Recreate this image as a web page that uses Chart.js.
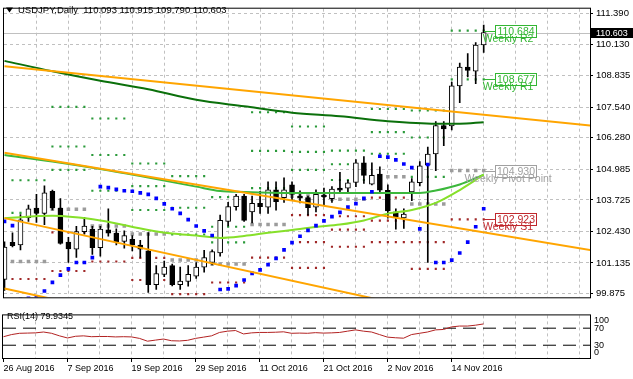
<!DOCTYPE html>
<html>
<head>
<meta charset="utf-8">
<script src="https://cdn.jsdelivr.net/npm/chart.js@4.4.1/dist/chart.umd.min.js"></script>
<style>
html,body{margin:0;padding:0;background:#fff;overflow:hidden;}
#wrap{position:relative;width:633px;height:379px;background:#fff;}
canvas{position:absolute;left:0;}
#main{top:0;}
#rsi{top:306px;}
</style>
</head>
<body>
<div id="wrap">
<canvas id="main" width="633" height="306"></canvas>
<canvas id="rsi" width="633" height="73"></canvas>
</div>
<script>
// ---------------- DATA ----------------
const symbol = 'USDJPY';
const timeframe = 'Daily';
const tickBars = [0, 8, 16, 24, 32, 40, 48, 56];
const tickLabels = ['26 Aug 2016','7 Sep 2016','19 Sep 2016','29 Sep 2016','11 Oct 2016','21 Oct 2016','2 Nov 2016','14 Nov 2016'];
const gridBars = [4,8,12,16,20,24,28,32,36,40,44,48,52,56,60,64,68,72];
const rsiGridBars = [0,4,8,12,16,20,24,28,32,36,40,44,48,52,56,60,64,68,72];
const priceTicks = [99.875, 101.135, 102.430, 103.725, 104.985, 106.280, 107.540, 108.835, 110.130, 111.390];

const opens = [100.45,101.98,101.87,102.99,103.39,103.17,104.08,103.39,101.99,101.70,
  102.42,102.52,101.76,102.49,102.36,102.02,102.10,101.87,101.63,100.24,
  100.66,101.02,100.24,100.37,100.59,100.96,101.15,101.54,102.84,103.45,
  103.88,103.23,103.58,103.43,104.14,103.82,104.34,103.88,103.82,103.43,
  103.92,103.78,104.21,104.21,104.44,105.25,104.37,104.79,104.12,103.23,
  102.98,104.05,104.43,105.15,105.61,106.78,106.77,108.41,109.19,109.02,110.093];
const highs = [102.00,102.37,103.12,103.51,103.95,104.30,104.13,103.78,102.19,102.64,
  103.01,102.64,102.64,103.36,102.53,102.45,102.26,102.06,102.38,101.02,
  101.21,101.09,100.96,101.02,101.15,101.65,101.67,103.10,103.62,103.95,
  103.95,103.88,104.08,104.47,104.47,104.63,104.47,104.10,103.88,104.14,
  104.21,104.27,104.86,104.53,105.38,105.51,105.25,105.08,104.34,103.36,
  103.36,104.60,105.30,105.90,106.94,106.94,108.57,109.35,109.74,110.19,110.915];
const lows = [100.00,101.79,101.67,102.84,102.80,102.71,103.31,101.90,101.15,101.36,
  102.32,101.48,101.41,102.23,101.87,101.74,101.63,101.36,99.92,100.04,
  100.57,100.19,100.04,100.18,100.50,100.75,101.05,101.41,102.65,103.30,
  102.84,102.78,103.17,103.17,103.30,103.62,103.69,103.60,103.10,103.23,
  103.49,103.62,104.01,104.01,104.27,104.40,104.34,104.01,102.97,102.52,
  102.55,103.69,104.30,101.15,104.93,105.95,106.60,107.72,108.78,108.50,109.790];
const closes = [101.78,101.84,102.91,103.36,103.17,104.01,103.39,101.93,101.71,102.42,
  102.65,101.76,102.52,102.36,101.99,102.26,101.87,101.70,100.24,100.70,
  100.96,100.24,100.39,100.66,100.96,101.35,101.60,102.88,103.45,103.88,
  102.88,103.58,103.45,104.14,103.65,104.14,103.95,103.80,103.40,103.95,
  103.86,104.17,104.12,104.43,105.25,104.73,104.73,104.12,103.27,103.04,
  103.14,104.47,105.12,105.61,106.78,106.64,108.41,109.19,109.05,110.09,110.603];

// Parabolic SAR
const sar = [102.84,102.67,99.66,99.68,99.70,99.98,100.33,100.63,100.89,101.15,
  101.15,101.35,104.27,104.23,104.16,104.10,104.08,104.01,103.95,103.79,
  103.56,103.36,103.17,102.91,102.65,102.45,102.26,100.04,100.07,100.20,
  100.43,100.70,100.85,101.06,101.32,101.67,101.97,102.23,102.47,102.67,
  102.86,103.04,103.21,103.43,103.57,103.79,104.06,105.52,105.48,105.37,
  105.20,105.05,102.53,105.18,101.15,101.15,101.25,101.54,101.99,102.62,103.36];

// RSI(14)
const rsi = [50,55,58,58.5,59,61,58,52,47,51,
  52,50,50.5,50.5,49.5,50,49.5,46,39.5,42,
  44.5,40.5,40,41.5,46,49,52,60,63,64.5,
  56.5,59,60,60,60.5,61.5,58,58.5,58,59.5,
  58.5,59,60,63,66,63,61,55,49,47.5,
  46.5,55,58,61,66,67,73,75,75,77,79.9345];
const rsiLevels = [70, 30];
const rsiTickPos = [12.6, 30, 70, 87.4];
const rsiTickText = ['0', '30', '70', '100'];

// Moving averages (sampled readings: bar index / value)
const maSlowBars = [0,6,12,18,24,30,36,42,48,54,57,60];
const maSlowVals = [109.44,109.01,108.62,108.27,107.84,107.57,107.31,107.16,106.96,106.86,106.86,106.92];
const maMidBars = [0,6,12,18,24,27,30,36,42,48,52,54,57,60];
const maMidVals = [105.57,105.30,104.99,104.64,104.27,104.09,104.05,104.01,104.01,104.01,104.01,104.11,104.36,104.76];
const maFastBars = [0,6,12,18,21,24,27,30,33,36,39,42,45,48,51,54,57,60];
const maFastVals = [102.97,103.07,102.88,102.49,102.34,102.26,102.16,102.24,102.37,102.49,102.61,102.71,102.88,103.16,103.31,103.60,104.13,104.76];

// Trend lines: [bar, price] endpoints
const trendA = [[0,109.22],[74,106.76]];
const trendB = [[0,105.66],[74,101.63]];
const trendC = [[0,102.975],[50,99.40]];
const trendD = [[0,100.08],[10,99.365]];

// Weekly pivots (each drawn over 5 bars)
const weekStart = [1,6,11,16,21,26,31,36,41,46,51,56];
const pivP  = [101.19,103.34,102.65,102.32,101.25,101.09,102.71,103.88,103.75,104.68,103.56,104.930];
const pivR1 = [103.19,104.96,104.10,103.31,102.30,101.98,104.21,104.96,104.54,105.62,104.67,108.677];
const pivR2 = [104.53,105.92,105.57,104.29,103.40,102.62,105.74,105.70,105.19,106.51,106.29,110.684];
const pivR3 = [null,107.55,107.07,105.22,104.70,103.84,107.33,106.74,105.75,107.46,107.40,null];
const pivS1 = [100.47,102.39,101.19,101.34,99.85,100.33,101.35,103.10,103.05,103.82,101.99,102.923];
const pivS2 = [null,100.80,null,100.43,null,null,null,101.99,102.50,102.87,100.89,null];
const pivS3 = [null,null,null,null,null,null,null,100.93,101.80,101.99,null,null];

const labelValues = [110.684, 108.677, 104.930, 102.923];
const labelNames = ['Weekly R2', 'Weekly R1', 'Weekly Pivot Point', 'Weekly S1'];

// ---------------- CHART ----------------
const FONT = '"Liberation Sans", Arial, sans-serif';
Chart.defaults.font.family = FONT;
Chart.defaults.font.size = 9;
Chart.defaults.color = '#000';
const N = closes.length;
const X_MIN = -0.0625, X_MAX = 73.31;
const idx = closes.map((_, i) => i);
const labelColors = ['#33b633', '#33b633', '#a0a0a0', '#c0282d'];

function levelPoints(arrs) {
  const pts = [];
  arrs.forEach(arr => arr.forEach((v, w) => {
    if (v == null) return;
    for (let k = 0; k < 5; k++) pts.push({x: weekStart[w] + k, y: v});
  }));
  return pts;
}
const toPts = (bars, vals) => bars.map((b, k) => ({x: b, y: vals[k]}));
const tl = (seg) => seg.map(p => ({x: p[0], y: p[1]}));

function dotSet(data, color, r, order) {
  return {type: 'line', data, showLine: false, pointStyle: 'rect', pointRadius: r,
    pointBackgroundColor: color, pointBorderWidth: 0, order, clip: 0};
}
function lineSet(data, color, w, order, smooth) {
  const o = {type: 'line', data, borderColor: color, borderWidth: w, pointRadius: 0, order, clip: 0, fill: false};
  if (smooth) o.cubicInterpolationMode = 'monotone';
  return o;
}

const mainDecor = {
  id: 'mainDecor',
  beforeDatasetsDraw(chart) {
    const {ctx, chartArea: a, scales: {y}} = chart;
    const yb = Math.round(y.getPixelForValue(closes[N - 1])) + 0.5;
    ctx.save();
    ctx.strokeStyle = '#c0c0c0'; ctx.lineWidth = 1;
    ctx.beginPath(); ctx.moveTo(a.left, yb); ctx.lineTo(a.right, yb); ctx.stroke();
    ctx.restore();
  },
  afterDatasetsDraw(chart) {
    const {ctx, chartArea: a, scales: {x, y}} = chart;
    ctx.save();
    ctx.beginPath(); ctx.rect(a.left, a.top, a.right - a.left, a.bottom - a.top); ctx.clip();
    const xEnd = Math.round(x.getPixelForValue(N - 1));
    const xBox = xEnd + 11;
    const xTxt = x.getPixelForValue(63.05);
    labelValues.forEach((v, k) => {
      const col = labelColors[k];
      const py = Math.round(y.getPixelForValue(v)) + 0.5;
      ctx.strokeStyle = col; ctx.lineWidth = 1;
      ctx.beginPath(); ctx.moveTo(xEnd, py); ctx.lineTo(xBox, py); ctx.stroke();
      ctx.fillStyle = '#fff'; ctx.fillRect(xBox, py - 6, 42, 12);
      ctx.strokeRect(xBox + 0.5, py - 6, 41, 12);
      ctx.font = '10.5px ' + FONT; ctx.fillStyle = col;
      ctx.textAlign = 'center'; ctx.textBaseline = 'middle';
      ctx.fillText(v.toFixed(3), xBox + 21, py + 0.5);
    });
    labelValues.forEach((v, k) => {
      const py = Math.round(y.getPixelForValue(v)) + 0.5;
      ctx.font = '10.5px ' + FONT; ctx.fillStyle = labelColors[k];
      ctx.textAlign = 'center'; ctx.textBaseline = 'middle';
      ctx.fillText(labelNames[k], xTxt, py + 8);
    });
    ctx.restore();

    // frame
    ctx.save();
    ctx.strokeStyle = '#000'; ctx.lineWidth = 1;
    ctx.strokeRect(a.left - 0.5, a.top - 0.5, a.right - a.left + 1, a.bottom - a.top + 1);
    // header
    ctx.fillStyle = '#000';
    ctx.beginPath(); ctx.moveTo(6, 7.5); ctx.lineTo(13, 7.5); ctx.lineTo(9.5, 12.5); ctx.closePath(); ctx.fill();
    ctx.font = '9.5px ' + FONT; ctx.textAlign = 'left'; ctx.textBaseline = 'middle';
    const last = N - 1;
    ctx.fillText(symbol + ',' + timeframe + '  ' + opens[last].toFixed(3) + ' ' + highs[last].toFixed(3) + ' ' +
      lows[last].toFixed(3) + ' ' + closes[last].toFixed(3), 18, 10.5);
    // current price marker
    const yc = Math.round(y.getPixelForValue(closes[last]));
    ctx.fillRect(591, yc - 5, 42, 10);
    ctx.fillStyle = '#fff';
    ctx.font = '9px ' + FONT;
    ctx.fillText(closes[last].toFixed(3), 596, yc + 0.5);
    ctx.restore();
  }
};

new Chart(document.getElementById('main'), {
  type: 'line',
  data: {
    datasets: [
      dotSet(levelPoints([pivR1, pivR2, pivR3]), '#2a9a3a', 1.5, 30),
      dotSet(levelPoints([pivP]), '#9c9c9c', 2.5, 29),
      dotSet(levelPoints([pivS1, pivS2, pivS3]), '#a02828', 1.5, 28),
      {type: 'bar', data: idx.map(i => ({x: i, y: [lows[i], highs[i]]})), backgroundColor: '#000',
        barThickness: 1, grouped: false, order: 20, clip: 0},
      {type: 'bar', data: idx.map(i => ({x: i, y: [opens[i], closes[i]]})),
        backgroundColor: idx.map(i => closes[i] >= opens[i] ? '#fff' : '#000'),
        borderColor: '#000', borderWidth: 1, borderSkipped: false, barThickness: 5, grouped: false, order: 19, clip: 0},
      lineSet(toPts(maSlowBars, maSlowVals), '#0b700b', 2, 12, true),
      lineSet(toPts(maMidBars, maMidVals), '#3cb83c', 2, 11, true),
      lineSet(toPts(maFastBars, maFastVals), '#86e02a', 2, 10, true),
      dotSet(sar.map((v, i) => ({x: i, y: v})), '#0000ff', 2.6, 5),
      lineSet(tl(trendA), '#ffa500', 2, 2),
      lineSet(tl(trendB), '#ffa500', 2, 2),
      lineSet(tl(trendC), '#ffa500', 2, 2),
      lineSet(tl(trendD), '#ffa500', 2, 2)
    ]
  },
  options: {
    responsive: false, animation: false, events: [],
    layout: {padding: {left: 3, right: 0, top: 1, bottom: 1}},
    plugins: {legend: {display: false}, tooltip: {enabled: false}, title: {display: false}},
    scales: {
      x: {type: 'linear', min: X_MIN, max: X_MAX, offset: false,
        afterBuildTicks: s => { s.ticks = gridBars.map(v => ({value: v})); },
        afterFit: s => { s.height = 0; },
        ticks: {display: false},
        grid: {color: '#c0c0c0', drawTicks: false, offset: false},
        border: {display: false, dash: [3, 3]}},
      y: {type: 'linear', position: 'right', min: 99.72, max: 111.585,
        afterBuildTicks: s => { s.ticks = priceTicks.map(v => ({value: v})); },
        afterFit: s => { s.width = 43; },
        ticks: {callback: v => Number(v).toFixed(3), padding: 3, autoSkip: false, color: '#000', font: {size: 9.5}},
        grid: {color: '#c0c0c0', tickColor: '#000', tickLength: 3, drawTicks: true},
        border: {display: false, dash: [3, 3]}}
    }
  },
  plugins: [mainDecor]
});

const rsiDecor = {
  id: 'rsiDecor',
  afterDatasetsDraw(chart) {
    const {ctx, chartArea: a} = chart;
    ctx.save();
    ctx.strokeStyle = '#000'; ctx.lineWidth = 1;
    ctx.strokeRect(a.left - 0.5, a.top - 0.5, a.right - a.left + 1, a.bottom - a.top + 1);
    ctx.fillStyle = '#000'; ctx.font = '9px ' + FONT; ctx.textAlign = 'left'; ctx.textBaseline = 'middle';
    ctx.fillText('RSI(14) ' + rsi[N - 1].toFixed(4), 7, 10.5);
    ctx.restore();
  }
};

new Chart(document.getElementById('rsi'), {
  type: 'line',
  data: {
    datasets: [
      ...rsiLevels.map(l => ({type: 'line', data: [{x: X_MIN, y: l}, {x: X_MAX, y: l}], borderColor: '#000',
        borderWidth: 1, borderDash: [13, 7], pointRadius: 0, order: 3, clip: 0})),
      {type: 'line', data: rsi.map((v, i) => ({x: i, y: v})), borderColor: '#b22222', borderWidth: 1,
        pointRadius: 0, order: 1, clip: 0}
    ]
  },
  options: {
    responsive: false, animation: false, events: [],
    layout: {padding: {left: 3, right: 0, top: 2, bottom: 0}},
    plugins: {legend: {display: false}, tooltip: {enabled: false}},
    scales: {
      x: {type: 'linear', min: X_MIN, max: X_MAX, offset: false,
        afterBuildTicks: s => { s.ticks = rsiGridBars.map(v => ({value: v})); },
        afterFit: s => { s.height = 21; },
        ticks: {callback: (v) => { const k = tickBars.indexOf(v); return k >= 0 ? tickLabels[k] : ''; },
          align: 'start', maxRotation: 0, minRotation: 0, autoSkip: false, padding: 1, color: '#000', font: {size: 9}},
        grid: {color: c => (c.tick && c.tick.value === 0) ? 'rgba(0,0,0,0)' : '#c0c0c0',
          tickColor: c => (c.tick && tickBars.includes(c.tick.value)) ? '#000' : 'rgba(0,0,0,0)',
          tickLength: 4, drawTicks: true, offset: false},
        border: {display: false, dash: [3, 3]}},
      y: {type: 'linear', position: 'right', min: 0, max: 100,
        afterBuildTicks: s => { s.ticks = rsiTickPos.map(v => ({value: v})); },
        afterFit: s => { s.width = 43; },
        ticks: {callback: (v, i) => rsiTickText[i], padding: 4, autoSkip: false, color: '#000', font: {size: 9}},
        grid: {drawOnChartArea: false, drawTicks: false},
        border: {display: false}}
    }
  },
  plugins: [rsiDecor]
});
</script>
</body>
</html>
